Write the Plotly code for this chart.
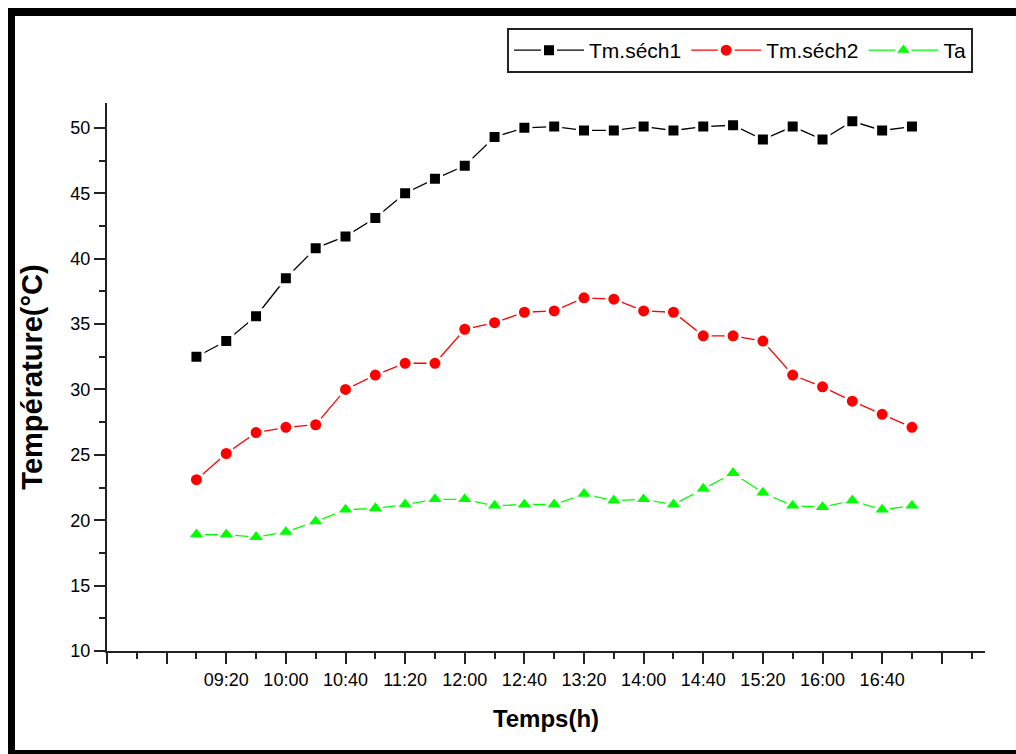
import plotly.graph_objects as go

# Measurement times (every 20 minutes)
times = ["09:00", "09:20", "09:40", "10:00", "10:20", "10:40", "11:00", "11:20",
         "11:40", "12:00", "12:20", "12:40", "13:00", "13:20", "13:40", "14:00",
         "14:20", "14:40", "15:00", "15:20", "15:40", "16:00", "16:20", "16:40",
         "17:00"]

tm_sech1 = [32.5, 33.7, 35.6, 38.5, 40.8, 41.7, 43.1, 45.0, 46.1, 47.1, 49.3, 50.0,
            50.1, 49.8, 49.8, 50.1, 49.8, 50.1, 50.2, 49.1, 50.1, 49.1, 50.5, 49.8,
            50.1]
tm_sech2 = [23.1, 25.1, 26.7, 27.1, 27.3, 30.0, 31.1, 32.0, 32.0, 34.6, 35.1, 35.9,
            36.0, 37.0, 36.9, 36.0, 35.9, 34.1, 34.1, 33.7, 31.1, 30.2, 29.1, 28.1,
            27.1]
ta = [18.9, 18.9, 18.7, 19.1, 19.9, 20.8, 20.9, 21.2, 21.6, 21.6, 21.1, 21.2,
      21.2, 22.0, 21.5, 21.6, 21.2, 22.4, 23.6, 22.1, 21.1, 21.0, 21.5, 20.8,
      21.1]

# Major ticks every 40 min from 08:00 to 17:20
tick_times = ["08:00", "08:40", "09:20", "10:00", "10:40", "11:20", "12:00", "12:40",
              "13:20", "14:00", "14:40", "15:20", "16:00", "16:40", "17:20"]
tick_labels = ["", "", "09:20", "10:00", "10:40", "11:20", "12:00", "12:40",
               "13:20", "14:00", "14:40", "15:20", "16:00", "16:40", ""]


def to_minutes(t):
    h, m = t.split(":")
    return int(h) * 60 + int(m)


x_min = [to_minutes(t) for t in times]
tick_vals = [to_minutes(t) for t in tick_times]

SANS = "Liberation Sans, Arial, sans-serif"

series = [
    ("Tm.séch1", tm_sech1, "black", "square", 13),
    ("Tm.séch2", tm_sech2, "#ff0000", "circle", 14),
    ("Ta", ta, "#00ff00", "triangle-up", 17),
]

fig = go.Figure()
for name, vals, color, symbol, size in series:
    fig.add_trace(go.Scatter(
        x=x_min, y=vals, name=name, mode="lines+markers",
        line=dict(color=color, width=1.3),
        marker=dict(symbol=symbol, size=size, color=color,
                    line=dict(color="white", width=3)),
    ))

W, H = 1016, 754
L, R, T, B = 107, 31, 103, 103
pw, ph = W - L - R, H - T - B


def px(x):
    return (x - L) / pw


def py(y):
    return (H - B - y) / ph


# Thick black frame around the figure (top, left, bottom)
frame = [
    (8, 8, 1016, 16),
    (8, 8, 15, 754),
    (8, 750, 1016, 754),
]
shapes = [dict(type="rect", xref="paper", yref="paper",
               x0=px(a), x1=px(c), y0=py(d), y1=py(b),
               fillcolor="black", line=dict(width=0), layer="above")
          for a, b, c, d in frame]

axis_common = dict(
    showgrid=False, zeroline=False, showline=True, linecolor="#222", linewidth=2,
    ticks="outside", tickcolor="#222", tickwidth=2, ticklen=11,
    mirror=False,
)

fig.update_layout(
    width=W, height=H,
    margin=dict(l=L, r=R, t=T, b=B),
    paper_bgcolor="white", plot_bgcolor="white",
    shapes=shapes,
    showlegend=True,
    legend=dict(
        orientation="h", x=px(973), y=py(28), xanchor="right", yanchor="top",
        bordercolor="#222", borderwidth=2, bgcolor="white",
        font=dict(family=SANS, size=21, color="black"),
        itemwidth=70, tracegroupgap=0,
    ),
    xaxis=dict(
        **axis_common,
        range=[480, 1069],
        tickmode="array", tickvals=tick_vals, ticktext=tick_labels,
        tickfont=dict(family=SANS, size=18, color="black"),
        minor=dict(ticks="outside", dtick=20, tick0=480, ticklen=6,
                   tickwidth=2, tickcolor="#222"),
        title=dict(text="<b>Temps(h)</b>", standoff=22,
                   font=dict(family=SANS, size=24, color="black")),
    ),
    yaxis=dict(
        **axis_common,
        range=[10, 51.9],
        tickmode="linear", tick0=10, dtick=5,
        tickfont=dict(family=SANS, size=18, color="black"),
        minor=dict(ticks="outside", dtick=2.5, tick0=10, ticklen=6,
                   tickwidth=2, tickcolor="#222"),
        title=dict(text="<b>Température(°C)</b>", standoff=19,
                   font=dict(family=SANS, size=29, color="black")),
    ),
)

fig.write_html("out.html")
